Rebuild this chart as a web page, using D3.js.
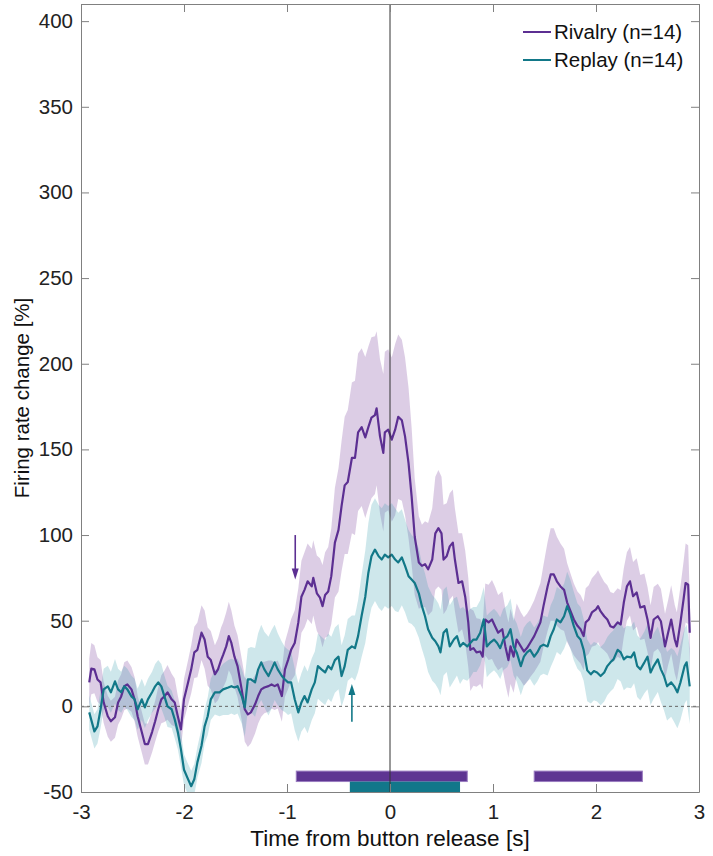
<!DOCTYPE html>
<html>
<head>
<meta charset="utf-8">
<script src="https://cdn.jsdelivr.net/npm/d3@7"></script>
<style>
  html, body { margin: 0; padding: 0; background: #fff; }
  svg { display: block; font-family: "Liberation Sans", Arial, Helvetica, sans-serif; }
  .axis path, .axis line { stroke: #808080; }
  .axis text { fill: #222; font-size: 20.5px; }
</style>
</head>
<body>
<svg id="chart" width="713" height="856"></svg>
<script>
// Mean firing rate change and its SEM half-width: [time (s), mean (%), sem (%)]
const rivalry = [
  [-2.92, 14, 14], [-2.90, 22, 15], [-2.87, 21.6, 14], [-2.84, 15.7, 13], [-2.81, 14, 13],
  [-2.78, 2.3, 12], [-2.74, -5.8, 12], [-2.71, -8.7, 12], [-2.67, -6.4, 12], [-2.64, 2.3, 13],
  [-2.61, 5.8, 13], [-2.58, 11.7, 14], [-2.55, 12.8, 14], [-2.51, 9.9, 13], [-2.48, 4.1, 13],
  [-2.45, -5.8, 12], [-2.41, -15, 12], [-2.38, -22, 12], [-2.35, -22, 12], [-2.31, -15, 12],
  [-2.28, -8.7, 12], [-2.25, -1.7, 13], [-2.22, 4.1, 14], [-2.19, 5.8, 15], [-2.16, 8.2, 16],
  [-2.12, 4.1, 15], [-2.09, 2.3, 14], [-2.06, -5.8, 12], [-2.03, -13.4, 11], [-2.00, 4.1, 12],
  [-1.96, 14, 13], [-1.93, 21.6, 14], [-1.90, 31.5, 15], [-1.87, 33, 16], [-1.83, 43, 16],
  [-1.80, 39, 17], [-1.77, 29, 17], [-1.74, 27, 17], [-1.70, 18.7, 17], [-1.67, 21.6, 18],
  [-1.64, 27, 19], [-1.62, 30, 19], [-1.59, 35, 20], [-1.565, 41, 20], [-1.54, 37, 19],
  [-1.51, 29, 18], [-1.48, 23.5, 18], [-1.44, 9.9, 18], [-1.41, -1.7, 19], [-1.38, -4.7, 19],
  [-1.35, -3.5, 18], [-1.31, 1.2, 17], [-1.28, 6, 16], [-1.25, 9.9, 16], [-1.22, 11, 15],
  [-1.18, 11.8, 15], [-1.15, 12.8, 14], [-1.12, 11.8, 14], [-1.09, 12.8, 14], [-1.05, 6, 15],
  [-1.02, 21.6, 16], [-0.99, 27, 17], [-0.96, 33, 18], [-0.925, 37, 19], [-0.89, 49, 20],
  [-0.86, 64, 21], [-0.83, 68, 22], [-0.80, 73, 22], [-0.76, 70, 22], [-0.745, 75, 22],
  [-0.71, 66, 22], [-0.68, 63.5, 23], [-0.655, 58.5, 24], [-0.63, 65, 25], [-0.60, 67, 26],
  [-0.57, 76, 28], [-0.535, 95.6, 32], [-0.50, 103, 36], [-0.47, 117, 38], [-0.44, 129, 40],
  [-0.41, 131, 42], [-0.37, 145, 44], [-0.34, 145, 45], [-0.31, 160, 46], [-0.275, 163, 46],
  [-0.24, 157, 47], [-0.21, 163, 47], [-0.18, 168.5, 47], [-0.146, 170, 46], [-0.13, 174, 45],
  [-0.097, 157.6, 45], [-0.065, 148, 46], [-0.05, 160, 47], [-0.017, 161.5, 47], [0.017, 155.7, 48],
  [0.05, 161.5, 50], [0.08, 169, 48], [0.115, 167, 47], [0.146, 157.6, 46], [0.18, 142, 44],
  [0.21, 122.6, 40], [0.24, 99, 34], [0.28, 84, 27], [0.31, 82, 24], [0.34, 83, 25],
  [0.37, 80, 27], [0.41, 85.7, 30], [0.44, 101, 33], [0.47, 104, 34], [0.50, 101, 33],
  [0.52, 85.7, 32], [0.55, 87.6, 31], [0.58, 93.4, 31], [0.61, 95.6, 31], [0.63, 85.7, 30],
  [0.665, 72, 29], [0.70, 73, 28], [0.73, 64, 27], [0.76, 49, 26], [0.78, 33, 24],
  [0.81, 34, 22], [0.84, 31.5, 20], [0.876, 32, 19], [0.90, 29, 19], [0.925, 50.7, 21],
  [0.957, 49, 22], [0.99, 50.7, 23], [1.02, 46.8, 23], [1.05, 43, 22], [1.09, 45, 22],
  [1.12, 35, 22], [1.15, 27, 22], [1.17, 35, 22], [1.20, 29, 21], [1.23, 39, 21],
  [1.27, 35, 20], [1.30, 32, 20], [1.33, 34, 20], [1.36, 37, 20], [1.40, 41, 21],
  [1.43, 45, 22], [1.46, 49, 23], [1.49, 58.5, 24], [1.53, 70, 26], [1.56, 77, 27],
  [1.59, 77, 27], [1.62, 73, 26], [1.655, 70, 25], [1.69, 68, 24], [1.72, 60.6, 23],
  [1.75, 56, 22], [1.785, 50.7, 21], [1.82, 47, 20], [1.85, 45, 20], [1.88, 41, 20],
  [1.90, 49, 20], [1.93, 50.7, 20], [1.96, 54.8, 20], [2.00, 56.6, 21], [2.02, 58.5, 21],
  [2.045, 55.4, 21], [2.08, 52.6, 20], [2.11, 50.7, 20], [2.14, 46.8, 20], [2.17, 46, 20],
  [2.21, 49, 20], [2.24, 47.8, 20], [2.27, 60.6, 20], [2.30, 70, 20], [2.33, 73, 20],
  [2.36, 64.3, 20], [2.395, 66.5, 20], [2.43, 57.7, 19], [2.47, 58.5, 19], [2.50, 50.7, 19],
  [2.53, 40, 19], [2.56, 50.7, 19], [2.60, 52.6, 19], [2.63, 49.7, 19], [2.67, 35, 19],
  [2.70, 43, 19], [2.73, 50.7, 20], [2.765, 39, 20], [2.785, 35, 20], [2.82, 49, 21],
  [2.85, 62.4, 22], [2.87, 72, 23], [2.895, 71, 23], [2.91, 43, 22]
];

const replay = [
  [-2.92, -3.5, 10], [-2.87, -14.6, 10], [-2.84, -11.7, 10], [-2.81, -1.7, 11], [-2.78, 9.9, 12],
  [-2.74, 11.7, 12], [-2.71, 8.2, 12], [-2.67, 14.6, 13], [-2.64, 9.9, 12], [-2.61, 8.2, 12],
  [-2.58, 11.7, 12], [-2.55, 9.9, 12], [-2.51, 5.8, 12], [-2.48, 4.1, 12], [-2.45, -1.7, 12],
  [-2.41, 4.1, 12], [-2.38, -0.6, 12], [-2.35, 4.1, 12], [-2.31, 8.2, 12], [-2.28, 11.7, 13],
  [-2.25, 14, 13], [-2.22, 11.7, 13], [-2.19, 5.8, 12], [-2.16, 0, 12], [-2.12, -1.7, 11],
  [-2.09, -7.6, 11], [-2.06, -15, 10], [-2.03, -25, 10], [-2.00, -37, 9], [-1.96, -42.6, 9],
  [-1.93, -46.6, 9], [-1.90, -42.6, 9], [-1.87, -32.7, 9], [-1.83, -23, 10], [-1.80, -11.7, 10],
  [-1.77, -5.8, 11], [-1.74, 4.1, 12], [-1.70, 8.2, 13], [-1.655, 8.2, 14], [-1.62, 9.9, 15],
  [-1.57, 11, 16], [-1.54, 11.8, 16], [-1.51, 11, 16], [-1.48, 11.8, 16], [-1.44, 6, 16],
  [-1.41, -0.6, 17], [-1.38, 15.7, 18], [-1.35, 15.7, 19], [-1.31, 14, 20], [-1.28, 21.6, 21],
  [-1.25, 25.7, 22], [-1.22, 21.6, 22], [-1.18, 17.7, 23], [-1.15, 21.6, 23], [-1.12, 25.7, 22],
  [-1.09, 21.6, 21], [-1.05, 17.7, 20], [-1.02, 15.7, 19], [-0.99, 14, 19], [-0.96, 14, 18],
  [-0.925, 4.1, 18], [-0.89, -3.5, 17], [-0.86, 2.3, 17], [-0.83, 6, 18], [-0.80, 2.3, 18],
  [-0.76, 9.9, 18], [-0.73, 14, 18], [-0.70, 23.5, 19], [-0.665, 21.6, 19], [-0.63, 19.8, 19],
  [-0.60, 23.5, 19], [-0.57, 21.6, 19], [-0.535, 27, 19], [-0.50, 29, 19], [-0.47, 17.7, 18],
  [-0.44, 23.5, 18], [-0.41, 33, 18], [-0.37, 35, 18], [-0.34, 34, 19], [-0.31, 41, 21],
  [-0.275, 53, 24], [-0.24, 64, 27], [-0.21, 78, 29], [-0.18, 87.6, 30], [-0.146, 91.5, 30],
  [-0.11, 87.6, 30], [-0.08, 85.7, 30], [-0.05, 88.6, 30], [-0.017, 87, 30], [0.017, 88.6, 30],
  [0.05, 85.7, 30], [0.08, 84, 29], [0.115, 87, 28], [0.146, 82, 27], [0.18, 76, 27],
  [0.21, 74, 26], [0.24, 72, 26], [0.28, 66, 26], [0.31, 58.5, 25], [0.34, 52.6, 25],
  [0.37, 45, 25], [0.41, 40, 25], [0.44, 38, 25], [0.47, 35, 25], [0.49, 31.5, 25],
  [0.52, 43, 25], [0.55, 45, 25], [0.58, 35, 24], [0.62, 39, 24], [0.65, 41, 23],
  [0.68, 35, 22], [0.71, 37, 21], [0.75, 35, 20], [0.78, 37, 20], [0.81, 39, 19],
  [0.84, 39, 19], [0.876, 43, 19], [0.91, 50.7, 19], [0.94, 35, 18], [0.97, 37, 18],
  [1.01, 39, 18], [1.04, 37, 18], [1.07, 34, 18], [1.10, 39, 18], [1.14, 41, 18],
  [1.17, 45, 18], [1.20, 35, 17], [1.23, 31.5, 17], [1.27, 23.5, 17], [1.30, 29, 17],
  [1.33, 31.5, 17], [1.36, 33, 17], [1.40, 29, 17], [1.43, 31.5, 17], [1.46, 35, 17],
  [1.49, 36, 17], [1.53, 35, 17], [1.56, 41, 18], [1.59, 45, 18], [1.62, 50.7, 19],
  [1.655, 49, 19], [1.69, 52.6, 19], [1.72, 58.5, 20], [1.75, 54, 20], [1.785, 46.8, 20],
  [1.82, 41, 19], [1.85, 39, 19], [1.88, 33, 18], [1.915, 21, 18], [1.95, 18.7, 17],
  [1.98, 20.6, 17], [2.01, 19.8, 17], [2.045, 17.7, 17], [2.08, 19.8, 17], [2.11, 23.5, 17],
  [2.14, 25.7, 17], [2.17, 27.4, 17], [2.21, 33, 17], [2.24, 31.5, 17], [2.27, 27.4, 18],
  [2.30, 29, 18], [2.34, 28.6, 18], [2.37, 31.5, 18], [2.40, 23.5, 18], [2.43, 21.6, 18],
  [2.47, 25.7, 18], [2.50, 29, 19], [2.53, 19.8, 19], [2.56, 23.5, 19], [2.60, 27.4, 19],
  [2.63, 21.6, 19], [2.66, 17.7, 20], [2.69, 11.7, 20], [2.73, 14, 20], [2.76, 11.7, 21],
  [2.79, 8.2, 21], [2.82, 14, 22], [2.86, 23.5, 22], [2.88, 25.7, 22], [2.91, 11.7, 22]
];

// Significance periods [start, end] in seconds
const rivalrySig = [[-0.91, 0.75], [1.40, 2.45]];
const replaySig = [[-0.39, 0.68]];

// Onset arrows: time, and value range the arrow spans (tail -> head)
const rivalryArrow = { t: -0.92, from: 100, to: 74 };
const replayArrow = { t: -0.37, from: -9, to: 13 };

const xTicks = [-3, -2, -1, 0, 1, 2, 3];
const yTicks = [-50, 0, 50, 100, 150, 200, 250, 300, 350, 400];

const seriesInfo = [
  { name: "Rivalry (n=14)", data: rivalry, line: "#5c2f92", band: "#8a5aa8", bandOpacity: 0.3 },
  { name: "Replay (n=14)", data: replay, line: "#127888", band: "#3a9fb0", bandOpacity: 0.25 }
];

/**
 * Layout
 */
const margin = { top: 4, right: 14, bottom: 64, left: 81 };
const svg = d3.select("#chart");
const width = +svg.attr("width") - margin.left - margin.right;
const height = +svg.attr("height") - margin.top - margin.bottom;

const g = svg.append("g")
  .attr("transform", "translate(" + margin.left + "," + margin.top + ")");

const x = d3.scaleLinear().domain([-3, 3]).range([0, width]);
const y = d3.scaleLinear().domain([-50, 410]).range([height, 0]);

// plain hyphen labels, as in the original figure
const plainLabel = d => String(d);

// SEM bands
const area = d3.area()
  .x(d => x(d[0]))
  .y0(d => y(d[1] - d[2]))
  .y1(d => y(d[1] + d[2]));

g.append("clipPath").attr("id", "plotClip")
  .append("rect").attr("width", width).attr("height", height);

const plot = g.append("g").attr("clip-path", "url(#plotClip)");

seriesInfo.forEach(s => {
  plot.append("path")
    .attr("d", area(s.data))
    .attr("fill", s.band)
    .attr("fill-opacity", s.bandOpacity)
    .attr("stroke", "none");
});

// zero line
plot.append("line")
  .attr("x1", 0).attr("x2", width)
  .attr("y1", y(0)).attr("y2", y(0))
  .attr("stroke", "#666")
  .attr("stroke-width", 1)
  .attr("stroke-dasharray", "3,3");

// mean lines
const line = d3.line().x(d => x(d[0])).y(d => y(d[1]));
seriesInfo.forEach(s => {
  plot.append("path")
    .attr("d", line(s.data))
    .attr("fill", "none")
    .attr("stroke", s.line)
    .attr("stroke-width", 2.2)
    .attr("stroke-linejoin", "round");
});

// significance bars
const drawBars = (periods, top, bottom, fill, stroke) => {
  plot.selectAll(null)
    .data(periods)
    .enter()
    .append("rect")
    .attr("x", d => x(d[0]))
    .attr("width", d => x(d[1]) - x(d[0]))
    .attr("y", y(top))
    .attr("height", y(bottom) - y(top))
    .attr("fill", fill)
    .attr("stroke", stroke)
    .attr("stroke-width", 1);
};
drawBars(rivalrySig, -37.8, -43.9, "#5e3592", "#9a7cc0");
drawBars(replaySig, -43.9, -50, "#12778a", "none");

// arrows: tip at "to", triangle base back toward "from"
const drawArrow = (a, color) => {
  const back = a.to > a.from ? 1 : -1; // +1 = base below the tip on screen
  const hx = x(a.t), hy = y(a.to);
  plot.append("line")
    .attr("x1", hx).attr("x2", hx)
    .attr("y1", y(a.from)).attr("y2", hy + back * 8)
    .attr("stroke", color).attr("stroke-width", 1.6);
  plot.append("path")
    .attr("d", "M" + hx + "," + hy + "L" + (hx - 3.5) + "," + (hy + back * 11) +
      "L" + (hx + 3.5) + "," + (hy + back * 11) + "Z")
    .attr("fill", color);
};
drawArrow(rivalryArrow, "#5c2f92");
drawArrow(replayArrow, "#127888");

// vertical line at button release
g.append("line")
  .attr("x1", x(0)).attr("x2", x(0))
  .attr("y1", 0).attr("y2", height)
  .attr("stroke", "#333")
  .attr("stroke-width", 1);

/**
 * Axes (ticks pointing inward, box all round)
 */
g.append("g")
  .attr("class", "axis")
  .attr("transform", "translate(0," + height + ")")
  .call(d3.axisBottom(x).tickValues(xTicks).tickFormat(plainLabel)
    .tickSizeInner(-8).tickSizeOuter(0).tickPadding(12));

g.append("g")
  .attr("class", "axis")
  .call(d3.axisLeft(y).tickValues(yTicks).tickFormat(plainLabel)
    .tickSizeInner(-8).tickSizeOuter(0).tickPadding(8));

g.append("g")
  .attr("class", "axis")
  .call(d3.axisTop(x).tickValues(xTicks).tickSizeInner(-8).tickSizeOuter(0).tickFormat(""));

g.append("g")
  .attr("class", "axis")
  .attr("transform", "translate(" + width + ",0)")
  .call(d3.axisRight(y).tickValues(yTicks).tickSizeInner(-8).tickSizeOuter(0).tickFormat(""));

g.selectAll(".axis .domain").attr("stroke", "#808080");

// axis titles
svg.append("text")
  .attr("x", margin.left + width / 2)
  .attr("y", 846)
  .attr("text-anchor", "middle")
  .attr("font-size", "22.5px")
  .attr("fill", "#111")
  .text("Time from button release [s]");

svg.append("text")
  .attr("transform", "translate(29," + (margin.top + height / 2) + ") rotate(-90)")
  .attr("text-anchor", "middle")
  .attr("font-size", "20.5px")
  .attr("fill", "#111")
  .text("Firing rate change [%]");

/**
 * Legend
 */
const legend = svg.append("g").attr("transform", "translate(523,32)");
seriesInfo.forEach((s, i) => {
  const row = legend.append("g").attr("transform", "translate(0," + i * 28 + ")");
  row.append("line")
    .attr("x1", 0).attr("x2", 28)
    .attr("stroke", s.line).attr("stroke-width", 2);
  row.append("text")
    .attr("x", 31)
    .attr("dy", "0.35em")
    .attr("font-size", "20.5px")
    .attr("fill", "#111")
    .text(s.name);
});
</script>
</body>
</html>
